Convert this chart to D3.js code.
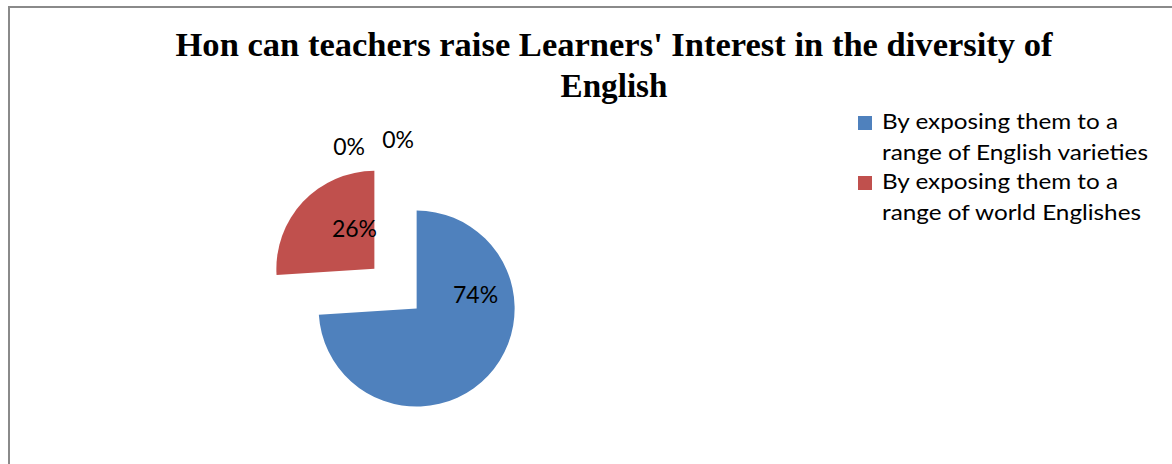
<!DOCTYPE html>
<html>
<head>
<meta charset="utf-8">
<script src="https://cdn.jsdelivr.net/npm/d3@7"></script>
<style>
  html, body { margin: 0; padding: 0; background: #fff; }
  svg { display: block; }
</style>
</head>
<body>
<svg id="chart" width="1172" height="464"></svg>
<script>
// Survey answers, in percent
const categories = [
  "By exposing them to a range of English varieties",
  "By exposing them to a range of world Englishes",
  "",
  ""
];
const values = [74, 26, 0, 0];
const colors = ["#4F81BD", "#C0504D", "#9BBB59", "#8064A2"];
const legendLines = [
  ["By exposing them to a", "range of English varieties"],
  ["By exposing them to a", "range of world Englishes"]
];
const titleLines = [
  "Hon can teachers raise Learners' Interest in the diversity of",
  "English"
];

const svg = d3.select("#chart");
const W = 1172, H = 464;

// chart frame
svg.append("path")
  .attr("d", `M9,${H} V7 H${W}`)
  .attr("fill", "none")
  .attr("stroke", "#8a8a8a")
  .attr("stroke-width", 2);

// title
const title = svg.append("g")
  .attr("font-family", "'Liberation Serif', 'Times New Roman', serif")
  .attr("font-weight", "bold")
  .attr("font-size", 34)
  .attr("fill", "#000")
  .attr("text-anchor", "middle");
const titleWidths = [877, 107];
const titleX = [614, 614];
const titleY = [56, 97];
titleLines.forEach((t, i) => {
  title.append("text")
    .attr("x", titleX[i]).attr("y", titleY[i])
    .attr("textLength", titleWidths[i])
    .attr("lengthAdjust", "spacingAndGlyphs")
    .text(t);
});

// pie
const cx = 395.5, cy = 288.7, radius = 98, explode = 29;
const pie = d3.pie().sort(null).value(d => d)
  .startAngle(0).endAngle(2 * Math.PI);
const arcs = pie(values);
const arc = d3.arc().innerRadius(0).outerRadius(radius);
const mid = d => (d.startAngle + d.endAngle) / 2;
const polar = (a, r) => [r * Math.sin(a), -r * Math.cos(a)];

const g = svg.append("g").attr("transform", `translate(${cx},${cy})`);

const slices = g.selectAll("g.slice")
  .data(arcs)
  .join("g")
  .attr("class", "slice")
  .attr("transform", d => {
    const [dx, dy] = polar(mid(d), explode);
    return `translate(${dx},${dy})`;
  });

slices.filter(d => d.value > 0)
  .append("path")
  .attr("d", arc)
  .attr("fill", d => colors[d.index]);

// data labels: inside the filled slices, outside for empty ones
const labelFont = "Lato, 'Open Sans', sans-serif";
const insideAt = [[0.285, 0.62], [0.72, 0.46]]; // [fraction along slice, fraction of radius]
slices.filter(d => d.value > 0)
  .append("text")
  .attr("font-family", labelFont)
  .attr("font-size", 23)
  .attr("fill", "#000")
  .attr("text-anchor", "middle")
  .attr("dominant-baseline", "central")
  .attr("transform", d => {
    const [f, rf] = insideAt[d.index];
    const a = d.startAngle + f * (d.endAngle - d.startAngle);
    const [x, y] = polar(a, rf * radius);
    return `translate(${x},${y})`;
  })
  .text(d => d3.format(".0%")(d.value / 100));

// empty slices: labels spread along an outer ring so they do not overlap
const empty = arcs.filter(d => d.value === 0);
const ringR = 150, spread = 19 * Math.PI / 180;
empty.forEach((d, k) => {
  const a = mid(d) + (k - (empty.length - 1)) * spread + Math.PI / 180;
  const [x, y] = polar(a, ringR);
  g.append("text")
    .attr("x", x).attr("y", y)
    .attr("font-family", labelFont)
    .attr("font-size", 23)
    .attr("fill", "#000")
    .attr("text-anchor", "middle")
    .attr("dominant-baseline", "central")
    .text(d3.format(".0%")(d.value / 100));
});

// legend
const legend = svg.append("g").attr("transform", "translate(858,0)");
const entryY = [129, 189];
const lineGap = 31;
const legendWidths = [[236, 266], [236, 259]];
legendLines.forEach((lines, i) => {
  legend.append("rect")
    .attr("x", 0).attr("y", entryY[i] - 13)
    .attr("width", 14).attr("height", 14)
    .attr("fill", colors[i]);
  lines.forEach((t, j) => {
    legend.append("text")
      .attr("x", 24).attr("y", entryY[i] + j * lineGap)
      .attr("font-family", labelFont)
      .attr("font-size", 22)
      .attr("fill", "#000")
      .attr("textLength", legendWidths[i][j])
      .attr("lengthAdjust", "spacingAndGlyphs")
      .text(t);
  });
});
</script>
</body>
</html>
